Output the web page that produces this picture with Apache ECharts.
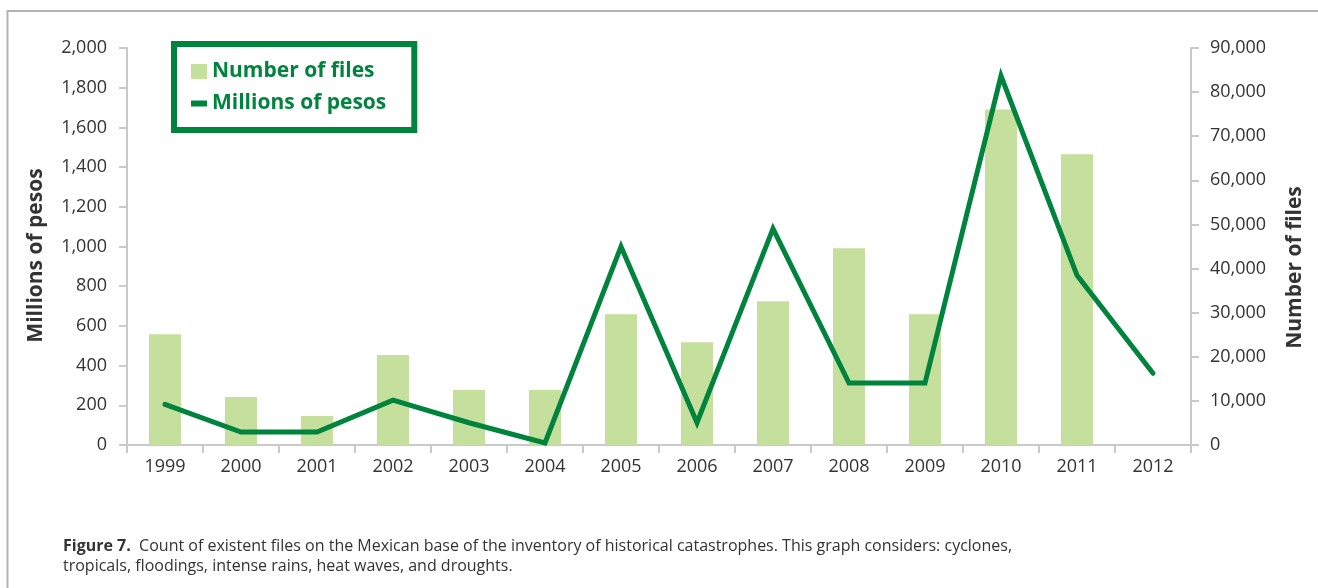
<!DOCTYPE html>
<html>
<head>
<meta charset="utf-8">
<script src="https://cdn.jsdelivr.net/npm/echarts@6/dist/echarts.min.js"></script>
<style>
  html, body { margin: 0; padding: 0; background: #ffffff; }
  #chart { width: 1318px; height: 588px; }
</style>
</head>
<body>
<div id="chart"></div>
<script>
const years = ['1999','2000','2001','2002','2003','2004','2005','2006','2007','2008','2009','2010','2011','2012'];
const numberOfFiles = [25100, 10870, 6570, 20380, 12450, 12450, 29660, 23320, 32600, 44600, 29660, 76080, 65890, null];
const millionsOfPesos = [205, 65, 65, 226, 112, 10, 1000, 112, 1090, 312, 312, 1860, 855, 361];
const pesosTicks = { min: 0, max: 2000, interval: 200 };
const filesTicks = { min: 0, max: 90000, interval: 10000 };

const FONT = '"Open Sans", "Noto Sans", sans-serif';
const AXIS_GRAY = '#c9c9c9';
const TEXT = '#333333';
const DARK_GREEN = '#00843d';
const LIGHT_GREEN = '#c5e09c';
const fmt = v => v.toLocaleString('en-US');

const chart = echarts.init(document.getElementById('chart'), null, { renderer: 'canvas' });
chart.setOption({
  backgroundColor: '#ffffff',
  animation: false,
  textStyle: { fontFamily: FONT },
  title: {
    left: 58, top: 531,
    text: '{b|Figure 7.}{r|  Count of existent files on the Mexican base of the inventory of historical catastrophes. This graph considers: cyclones,}\n{r|tropicals, floodings, intense rains, heat waves, and droughts.}',
    textStyle: {
      rich: {
        b: { fontFamily: FONT, fontWeight: 'bold', fontSize: 16, color: '#333', lineHeight: 20 },
        r: { fontFamily: FONT, fontWeight: 'normal', fontSize: 16, color: '#333', lineHeight: 20 }
      }
    }
  },
  graphic: [
    { type: 'polyline', silent: true, shape: { points: [[7.5, 588], [7.5, 11], [1318, 11]] },
      style: { stroke: '#b3b3b3', lineWidth: 2, fill: null } }
  ],
  legend: {
    left: 174, top: 44,
    orient: 'vertical',
    padding: [17, 28, 16, 17],
    itemGap: 11,
    itemWidth: 16, itemHeight: 15,
    borderColor: DARK_GREEN, borderWidth: 6,
    backgroundColor: '#ffffff',
    textStyle: { color: DARK_GREEN, fontWeight: 'bold', fontSize: 21, fontFamily: FONT },
    data: [
      { name: 'Number of files', icon: 'rect' },
      { name: 'Millions of pesos', icon: 'path://M0,0 M0,4.5 L16,4.5 L16,10.5 L0,10.5 Z M16,15' }
    ]
  },
  grid: { left: 127, right: 127, top: 48, bottom: 143 },
  xAxis: {
    type: 'category',
    data: years,
    boundaryGap: true,
    axisLine: { lineStyle: { color: AXIS_GRAY, width: 2 } },
    axisTick: { show: true, length: 8, interval: 0, lineStyle: { color: AXIS_GRAY, width: 2 } },
    axisLabel: { color: TEXT, fontSize: 18, margin: 13, fontFamily: FONT, interval: 0 }
  },
  yAxis: [
    {
      type: 'value', position: 'left',
      min: pesosTicks.min, max: pesosTicks.max, interval: pesosTicks.interval,
      name: 'Millions of pesos', nameLocation: 'middle', nameGap: 80, nameRotate: 90,
      nameTextStyle: { color: TEXT, fontWeight: 'bold', fontSize: 21, fontFamily: FONT, padding: [0, 18, 0, 0] },
      axisLine: { show: true, lineStyle: { color: AXIS_GRAY, width: 2 } },
      axisTick: { show: true, length: 8, lineStyle: { color: AXIS_GRAY, width: 2 } },
      axisLabel: { color: TEXT, fontSize: 18, margin: 20, fontFamily: FONT, formatter: fmt },
      splitLine: { show: false }
    },
    {
      type: 'value', position: 'right',
      min: filesTicks.min, max: filesTicks.max, interval: filesTicks.interval,
      name: 'Number of files', nameLocation: 'middle', nameGap: 94, nameRotate: 90,
      nameTextStyle: { color: TEXT, fontWeight: 'bold', fontSize: 21, fontFamily: FONT, padding: [0, 42, 0, 0] },
      axisLine: { show: true, lineStyle: { color: AXIS_GRAY, width: 2 } },
      axisTick: { show: true, length: 8, lineStyle: { color: AXIS_GRAY, width: 2 } },
      axisLabel: { color: TEXT, fontSize: 18, margin: 19, fontFamily: FONT, formatter: fmt },
      splitLine: { show: false }
    }
  ],
  series: [
    {
      name: 'Number of files', type: 'bar', yAxisIndex: 1,
      data: numberOfFiles, barWidth: 32,
      itemStyle: { color: LIGHT_GREEN }
    },
    {
      name: 'Millions of pesos', type: 'line', yAxisIndex: 0,
      data: millionsOfPesos, showSymbol: false, symbol: 'none',
      itemStyle: { color: DARK_GREEN },
      lineStyle: { color: DARK_GREEN, width: 5, join: 'miter', cap: 'round' },
      z: 3
    }
  ]
});
</script>
</body>
</html>
